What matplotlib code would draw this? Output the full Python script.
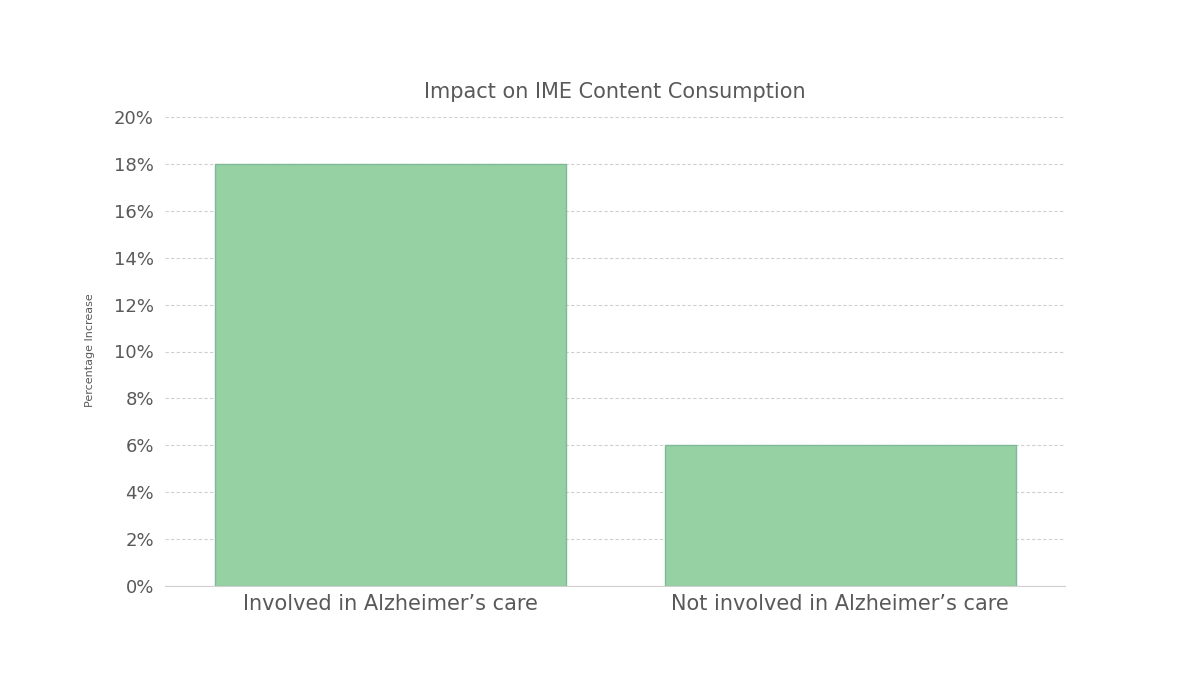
import matplotlib
matplotlib.use("Agg")
import matplotlib.pyplot as plt
from matplotlib.ticker import FuncFormatter

categories = ["Involved in Alzheimer\u2019s care", "Not involved in Alzheimer\u2019s care"]
values = [18, 6]
yticks = [0, 2, 4, 6, 8, 10, 12, 14, 16, 18, 20]

fig = plt.figure(figsize=(12, 6.75), dpi=100)
ax = fig.add_axes([165/1200, 1-586/675, 900/1200, 469/675])
ax.bar(range(len(categories)), values, width=0.78, color="#96D1A3", edgecolor="#7fb99a", linewidth=1, zorder=2)
ax.set_xlim(-0.5, 1.5)
ax.set_ylim(0, 20)
ax.set_yticks(yticks)
ax.yaxis.set_major_formatter(FuncFormatter(lambda v, p: f"{v:.0f}%"))
ax.set_xticks(range(len(categories)))
ax.set_xticklabels(categories, fontsize=15, color="#595959")
ax.tick_params(axis="y", labelsize=13, colors="#595959", length=0, pad=8)
ax.tick_params(axis="x", length=0, pad=6)
ax.grid(axis="y", color="#d0d0d0", linestyle=(0, (3, 2)), linewidth=0.8, zorder=0)
for s in ["top", "right", "left"]:
    ax.spines[s].set_visible(False)
ax.spines["bottom"].set_color("#d0d0d0")
ax.set_title("Impact on IME Content Consumption", fontsize=15, color="#595959", pad=14)
fig.text(90/1200, 1-350/675, "Percentage Increase", rotation=90, fontsize=8, color="#595959", ha="center", va="center")
fig.savefig("out.png", dpi=100, facecolor="white")
